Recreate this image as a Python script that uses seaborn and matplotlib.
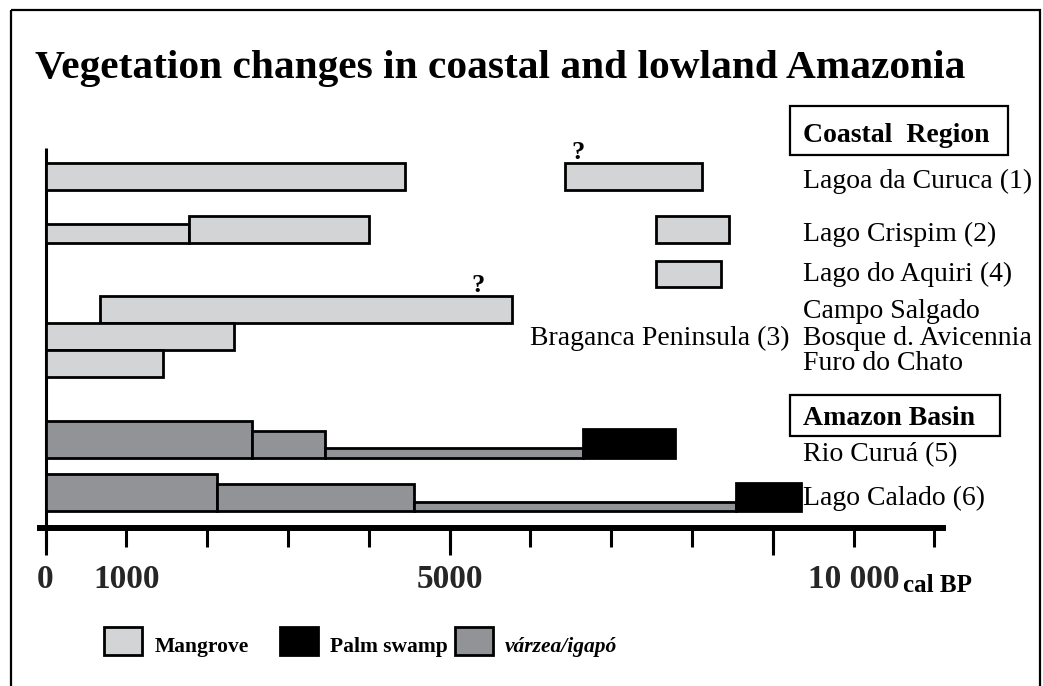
import matplotlib
matplotlib.use("Agg")
import matplotlib.pyplot as plt
from matplotlib.patches import Rectangle
from matplotlib.ticker import FixedLocator
import seaborn as sns
import pandas as pd

# ------------------------------------------------------------------ data
sites = ["Lagoa da Curuca (1)", "Lago Crispim (2)", "Lago do Aquiri (4)",
         "Campo Salgado", "Bosque d. Avicennia", "Furo do Chato",
         "Rio Curuá (5)", "Lago Calado (6)"]
group_label = "Braganca Peninsula (3)"
sections = ["Coastal  Region", "Amazon Basin"]

seg_site = [0, 0, 1, 1, 1, 2, 3, 4, 5, 6, 6, 6, 6, 7, 7, 7, 7]
seg_start = [0, 6430, 0, 1780, 7550, 7550, 670, 0, 0,
             0, 2550, 3460, 6650, 0, 2120, 4560, 8550]
seg_end = [4450, 8120, 1780, 4000, 8460, 8360, 5770, 2330, 1450,
           2550, 3460, 6650, 7790, 2120, 4560, 8550, 9350]
seg_type = ["Mangrove"] * 9 + ["várzea/igapó"] * 3 + ["Palm swamp"] + \
           ["várzea/igapó"] * 3 + ["Palm swamp"]
seg_level = [1.0, 1.0, 0.7, 1.0, 1.0, 0.96, 1.0, 1.0, 1.0,
             1.37, 1.0, 0.37, 1.07, 1.37, 1.0, 0.33, 1.04]

query_site = [0, 3]
query_x = [6590, 5350]

tick_values = list(range(0, 12000, 1000))
tick_labels = ["0", "1000", "", "", "", "5000", "", "", "", "", "10 000", ""]
long_ticks = [0, 5000, 9000]
axis_unit = "cal BP"
legend_types = ["Mangrove", "Palm swamp", "várzea/igapó"]
title = "Vegetation changes in coastal and lowland Amazonia"

df = pd.DataFrame({"site": seg_site, "start": seg_start, "end": seg_end,
                   "type": seg_type, "level": seg_level})

# ------------------------------------------------------------------ style / layout
sns.set_theme(style="white")
plt.rcParams["font.family"] = ["Liberation Serif", "DejaVu Serif"]

colors = {"Mangrove": "#d3d4d6", "Palm swamp": "#000000", "várzea/igapó": "#929397"}
W, H = 1043, 686
row_base = [190, 243, 287, 323, 350, 377, 458, 511]   # bottom edge of each row (px)
unit_h = 27
label_base = [188, 241, 281, 318, 345, 370, 461, 505]

fig = plt.figure(figsize=(W / 100, H / 100), dpi=100)
fig.patch.set_facecolor("white")

ax_l, ax_r, ax_b, ax_t = 40, 943, 528, 140
ax = fig.add_axes([ax_l / W, 1 - ax_b / H, (ax_r - ax_l) / W, (ax_b - ax_t) / H])
x0 = -(45.5 - ax_l) / 0.0808
x1 = (ax_r - 45.5) / 0.0808
ax.set_xlim(x0, x1)
ax.set_ylim(ax_b, ax_t)
ax.patch.set_alpha(0)
for s in ["left", "right", "top"]:
    ax.spines[s].set_visible(False)
ax.spines["bottom"].set_linewidth(4.3)
ax.spines["bottom"].set_color("black")
ax.set_yticks([])

for _, r in df.iterrows():
    h = r["level"] * unit_h
    base = row_base[int(r["site"])]
    ax.barh(y=base - h / 2, width=r["end"] - r["start"], left=r["start"], height=h,
            color=colors[r["type"]], edgecolor="black", linewidth=2.0, zorder=3)

for si, qx in zip(query_site, query_x):
    top = row_base[si] - unit_h
    ax.text(qx, top - 4, "?", ha="center", va="baseline", fontsize=19,
            fontweight="bold", color="black", zorder=4)

ax.plot([0, 0], [148, ax_b], color="black", lw=2.2, solid_capstyle="butt",
        clip_on=False, zorder=2)

ax.xaxis.remove_overlapping_locs = False
ax.set_xticks(tick_values)
ax.set_xticklabels(tick_labels)
ax.xaxis.set_minor_locator(FixedLocator(long_ticks))
ax.tick_params(axis="x", which="major", direction="out", length=13.7, width=2.2,
               pad=12, labelsize=24, color="black", bottom=True)
ax.tick_params(axis="x", which="minor", direction="out", length=19.4, width=2.2,
               color="black", bottom=True, labelbottom=False)
for lbl in ax.get_xticklabels():
    lbl.set_fontweight("bold")

# ------------------------------------------------------------------ overlay (px coords)
ov = fig.add_axes([0, 0, 1, 1])
ov.set_xlim(0, W)
ov.set_ylim(H, 0)
ov.axis("off")
ov.patch.set_alpha(0)

ov.add_patch(Rectangle((11, 10), 1029, 700, fill=False, edgecolor="black", lw=1.6))

t_title = ov.text(35, 78, title, ha="left", va="baseline", fontsize=30,
                  fontweight="bold", color="black")

ov.text(903, 592, axis_unit, ha="left", va="baseline", fontsize=18,
        fontweight="bold", color="black")

# section boxes
ov.add_patch(Rectangle((790, 106), 218, 49, fill=False, edgecolor="black", lw=1.6))
ov.text(803, 142, sections[0], ha="left", va="baseline", fontsize=20,
        fontweight="bold", color="black")
ov.add_patch(Rectangle((790, 395), 210, 41, fill=False, edgecolor="black", lw=1.6))
ov.text(803, 425, sections[1], ha="left", va="baseline", fontsize=20,
        fontweight="bold", color="black")

for name, yb in zip(sites, label_base):
    ov.text(803, yb, name, ha="left", va="baseline", fontsize=20, color="black")
ov.text(790, label_base[4], group_label, ha="right", va="baseline", fontsize=20,
        color="black")

# legend
sw_x = [104, 280, 455]
tx_x = [155, 330, 505]
for lt, sx, tx in zip(legend_types, sw_x, tx_x):
    ov.add_patch(Rectangle((sx, 627), 38, 28, facecolor=colors[lt],
                           edgecolor="black", lw=2.0))
    ov.text(tx, 652, lt, ha="left", va="baseline", fontsize=15.5, fontweight="bold",
            style="italic" if lt == "várzea/igapó" else "normal", color="black")

# fit title width
fig.canvas.draw()
rend = fig.canvas.get_renderer()
w = t_title.get_window_extent(rend).width
t_title.set_fontsize(t_title.get_fontsize() * 928 / w)

fig.savefig("out.png", dpi=100, facecolor="white")
